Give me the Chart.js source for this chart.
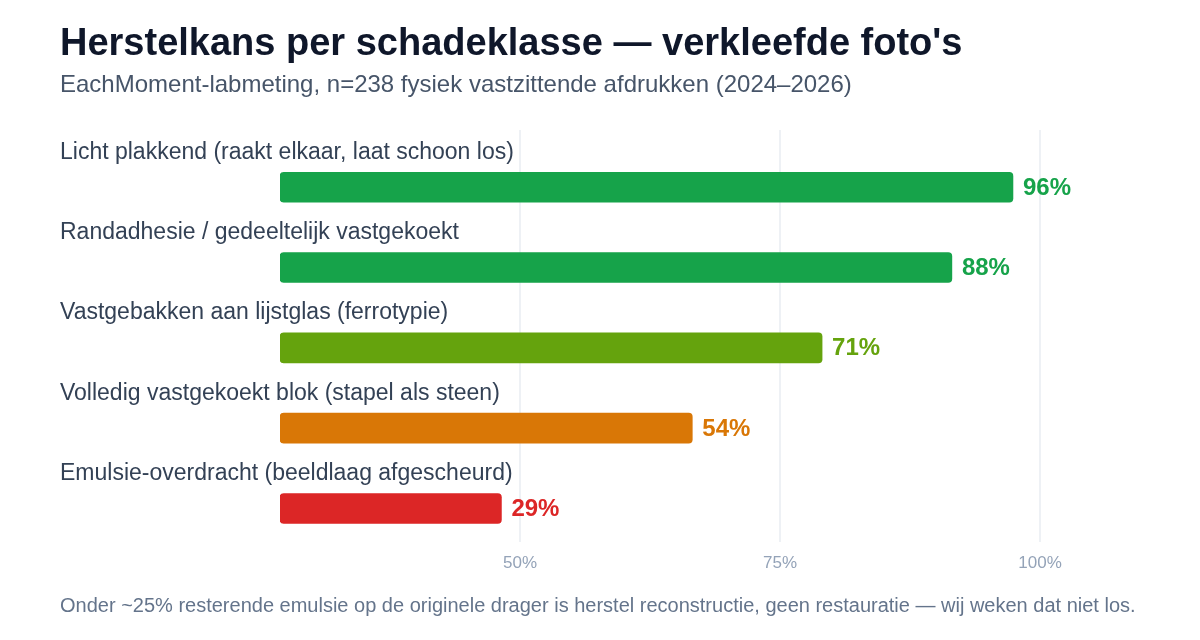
<!DOCTYPE html>
<html lang="nl">
<head>
<meta charset="utf-8">
<script src="https://cdn.jsdelivr.net/npm/chart.js@4.4.1/dist/chart.umd.min.js"></script>
<style>
  html, body { margin: 0; padding: 0; background: #ffffff; }
  body { width: 1200px; height: 640px; position: relative; overflow: hidden;
         font-family: 'Liberation Sans', Arial, sans-serif; }
  #wrap { position: absolute; left: 0; top: 0; width: 1200px; height: 640px; }
  .txt { position: absolute; left: 60px; white-space: nowrap; }
  #title { top: 23px; font-size: 38px; line-height: 38px; font-weight: bold; color: #0f172a; }
  #subtitle { top: 72px; font-size: 24px; line-height: 24px; color: #475569; }
  #footer { top: 595px; font-size: 20px; line-height: 20px; color: #64748b; }
</style>
</head>
<body>
<div id="wrap"><canvas id="chart" width="1200" height="640"></canvas></div>
<div class="txt" id="title">Herstelkans per schadeklasse — verkleefde foto's</div>
<div class="txt" id="subtitle">EachMoment-labmeting, n=238 fysiek vastzittende afdrukken (2024–2026)</div>
<div class="txt" id="footer">Onder ~25% resterende emulsie op de originele drager is herstel reconstructie, geen restauratie — wij weken dat niet los.</div>
<script>
'use strict';

/* ───── DATA ───────────────────────────────────────────────────────────── */
const categories = [
    'Licht plakkend (raakt elkaar, laat schoon los)',
    'Randadhesie / gedeeltelijk vastgekoekt',
    'Vastgebakken aan lijstglas (ferrotypie)',
    'Volledig vastgekoekt blok (stapel als steen)',
    'Emulsie-overdracht (beeldlaag afgescheurd)',
];
const recoveryPct = [96, 88, 71, 54, 29];
const barColors   = ['#16a34a', '#16a34a', '#65a30d', '#d97706', '#dc2626'];
const gridTicks   = [50, 75, 100];

const FONT = "'Liberation Sans', Arial, sans-serif";
Chart.defaults.font.family = FONT;

/* ───── LABEL PLUGIN: category above bar, value right of bar ───────────── */
const barLabels = {
    id: 'barLabels',
    afterDatasetsDraw(chart) {
        const { ctx } = chart;
        const meta = chart.getDatasetMeta(0);
        ctx.save();
        ctx.textBaseline = 'middle';
        meta.data.forEach((bar, i) => {
            ctx.textAlign = 'left';
            ctx.fillStyle = '#334155';
            ctx.font = `23px ${FONT}`;
            ctx.fillText(categories[i], 60, bar.y - 35);
            ctx.fillStyle = barColors[i];
            ctx.font = `bold 24px ${FONT}`;
            ctx.fillText(recoveryPct[i] + '%', bar.x + 10, bar.y + 1);
        });
        ctx.restore();
    },
};

new Chart(document.getElementById('chart').getContext('2d'), {
    type: 'bar',
    data: {
        datasets: [{
            data: recoveryPct.map((v, i) => ({ x: v, y: i })),
            backgroundColor: barColors,
            borderRadius: 4,
            borderSkipped: false,
            barThickness: 30,
            xAxisID: 'x',
            yAxisID: 'y',
        }],
    },
    options: {
        indexAxis: 'y',
        responsive: false,
        animation: false,
        layout: { padding: { left: 280, right: 60, top: 130, bottom: 54 } },
        plugins: { legend: { display: false }, tooltip: { enabled: false } },
        scales: {
            x: { type: 'linear', bounds: 'data', min: 0, max: 112.64, display: false },
            x2: {
                type: 'linear', axis: 'x', position: 'bottom', bounds: 'data',
                min: 26.923, max: 109.615,
                afterBuildTicks: ax => { ax.ticks = gridTicks.map(v => ({ value: v })); },
                grid: { color: '#eef1f5', lineWidth: 2, drawTicks: false },
                border: { display: false },
                ticks: {
                    padding: 12, color: '#94a3b8',
                    font: { size: 17 },
                    callback: v => v + '%',
                },
            },
            y: {
                type: 'linear', bounds: 'data', offset: false,
                min: -0.7125, max: 4.4125, reverse: true, display: false,
                grid: { offset: false },
            },
        },
    },
    plugins: [barLabels],
});
</script>
</body>
</html>
